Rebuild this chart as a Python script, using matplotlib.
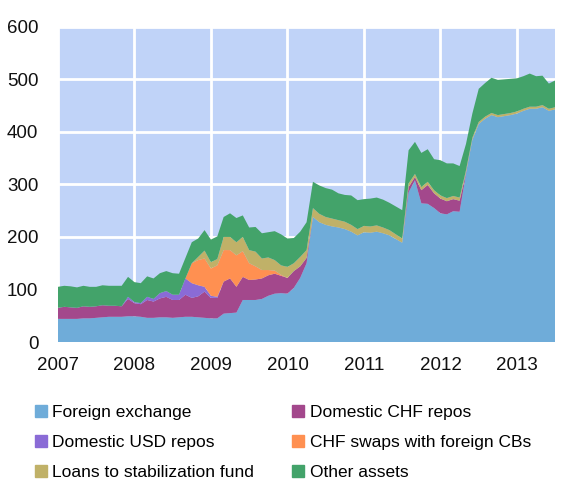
import numpy as np
import matplotlib
matplotlib.use("Agg")
import matplotlib.pyplot as plt
from matplotlib.patches import Patch

plt.rcParams['font.family'] = ['Liberation Sans', 'DejaVu Sans']

# monthly balance sheet items, CHF bn, Jan 2007 .. Jul 2013
start_year = 2007
foreign_exchange = [44, 44, 44, 44, 45, 45, 46, 47, 48, 48, 48, 49, 49, 48, 46, 46, 47, 47, 46, 47,
                    48, 48, 47, 46, 45, 45, 54, 55, 56, 80, 80, 80, 82, 88, 92, 93, 92, 103, 122, 150,
                    238, 228, 223, 220, 218, 215, 210, 203, 209, 208, 210, 207, 203, 196, 189, 285, 308, 264, 263, 255,
                    245, 243, 249, 248, 320, 385, 415, 425, 432, 428, 430, 432, 435, 440, 444, 444, 447, 440, 443]
chf_repos = [21, 23, 22, 21, 23, 22, 22, 23, 21, 21, 20, 33, 25, 24, 34, 31, 36, 39, 34, 33,
             42, 36, 40, 50, 39, 39, 61, 66, 49, 44, 38, 39, 39, 39, 38, 33, 30, 32, 22, 10,
             0, 0, 0, 0, 0, 0, 0, 0, 0, 0, 0, 0, 0, 0, 0, 10, 6, 25, 36, 28,
             28, 25, 23, 21, 2, 0, 0, 0, 0, 0, 0, 0, 0, 0, 0, 0, 0, 0, 0]
usd_repos = [0, 0, 0, 0, 0, 0, 0, 0, 0, 0, 0, 4, 2, 2, 6, 5, 10, 11, 10, 10,
             31, 28, 21, 9, 4, 2, 0, 0, 0, 0, 0, 0, 0, 0, 0, 0, 0, 0, 0, 0,
             0, 0, 0, 0, 0, 0, 0, 0, 0, 0, 0, 0, 0, 0, 0, 0, 0, 0, 0, 0,
             0, 0, 0, 0, 0, 0, 0, 0, 0, 0, 0, 0, 0, 0, 0, 0, 0, 0, 0]
chf_swaps = [0, 0, 0, 0, 0, 0, 0, 0, 0, 0, 0, 0, 0, 0, 0, 0, 0, 0, 0, 0,
             0, 38, 48, 54, 52, 60, 60, 54, 60, 49, 32, 25, 16, 10, 6, 2, 0, 0, 0, 0,
             0, 0, 0, 0, 0, 0, 0, 0, 0, 0, 0, 0, 0, 0, 0, 0, 0, 0, 0, 0,
             0, 0, 0, 0, 0, 0, 0, 0, 0, 0, 0, 0, 0, 0, 0, 0, 0, 0, 0]
stab_fund = [0, 0, 0, 0, 0, 0, 0, 0, 0, 0, 0, 0, 0, 0, 0, 0, 0, 0, 0, 0,
             0, 0, 6, 15, 12, 12, 25, 25, 25, 27, 25, 28, 22, 24, 20, 18, 21, 15, 18, 15,
             17, 16, 15, 15, 14, 14, 13, 12, 12, 12, 12, 11, 10, 9, 8, 7, 6, 6, 6, 6,
             6, 6, 6, 6, 5, 4, 4, 4, 4, 4, 4, 4, 4, 4, 4, 4, 4, 4, 4]
other_assets = [40, 40, 40, 39, 39, 38, 37, 38, 38, 38, 39, 38, 38, 38, 39, 39, 38, 38, 41, 40,
                39, 40, 35, 39, 43, 43, 38, 45, 46, 41, 43, 47, 48, 48, 55, 59, 54, 48, 48, 53,
                50, 54, 55, 55, 51, 51, 56, 55, 51, 53, 53, 53, 52, 53, 54, 63, 61, 65, 62, 59,
                67, 66, 62, 60, 50, 46, 63, 64, 67, 67, 66, 65, 63, 62, 63, 58, 56, 48, 51]

labels = ["Foreign exchange", "Domestic CHF repos", "Domestic USD repos",
          "CHF swaps with foreign CBs", "Loans to stabilization fund", "Other assets"]
colors = ["#6FACD9", "#A3488C", "#8A6BD6", "#FF9051", "#C0B168", "#43A36A"]

x = start_year + np.arange(len(foreign_exchange)) / 12.0

fig = plt.figure(figsize=(5.62, 4.79), dpi=100)
ax = fig.add_axes([0.103, 0.286, 0.885, 0.658])
ax.set_facecolor("#C0D3F8")

ax.stackplot(x, foreign_exchange, chf_repos, usd_repos, chf_swaps, stab_fund, other_assets,
             colors=colors, linewidth=0, zorder=3)

ax.set_xlim(2007, 2013.5)
ax.set_ylim(0, 600)
ax.set_xticks(range(2007, 2014))
ax.set_yticks(range(0, 601, 100))
ax.grid(True, color="white", linewidth=2, zorder=1)
ax.set_axisbelow(True)
for s in ax.spines.values():
    s.set_visible(False)
ax.tick_params(axis="both", length=0, labelsize=13.5, colors="#111111")
ax.tick_params(axis="y", pad=14)
ax.tick_params(axis="x", pad=11)

# legend: row-major order in two columns
handles = [Patch(color=c) for c in colors]
order = [0, 2, 4, 1, 3, 5]
fig.legend([handles[i] for i in order], [labels[i] for i in order],
           loc="upper left", bbox_to_anchor=(0.062, 0.154), ncol=2, frameon=False,
           fontsize=12.5, handlelength=0.7, handleheight=0.7, handletextpad=0.3,
           labelspacing=0.84, columnspacing=2.2, borderaxespad=0, borderpad=0)

fig.savefig("out.png", dpi=100)
